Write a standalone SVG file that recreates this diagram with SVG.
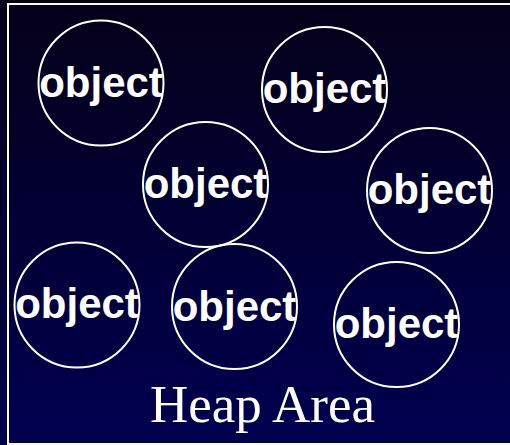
<svg xmlns="http://www.w3.org/2000/svg" width="510" height="445" viewBox="0 0 510 445">
  <defs>
    <linearGradient id="bg" x1="0" y1="0" x2="0" y2="1">
      <stop offset="0" stop-color="#040018"/>
      <stop offset="1" stop-color="#000050"/>
    </linearGradient>
  </defs>
  <style>
    .obj circle { fill: none; stroke: #ffffff; stroke-width: 2; }
    .obj text { fill: #ffffff; font-family: "Liberation Sans", Arial, sans-serif; font-weight: bold; font-size: 42px; text-anchor: middle; }
    .label { fill: #ffffff; font-family: "Liberation Serif", "Times New Roman", serif; font-size: 53px; text-anchor: middle; }
  </style>
  <rect x="0" y="0" width="510" height="445" fill="url(#bg)"/>
  <rect x="8" y="4" width="506" height="440" fill="none" stroke="#ffffff" stroke-width="2"/>
  <g id="connectors"></g>
  <g id="obj1" class="obj"><circle cx="101" cy="83" r="62.5"/><text x="101" y="97">object</text></g>
  <g id="obj2" class="obj"><circle cx="324.5" cy="89.5" r="62.5"/><text x="324.5" y="103">object</text></g>
  <g id="obj3" class="obj"><circle cx="205.5" cy="184.5" r="62.5"/><text x="205.5" y="198">object</text></g>
  <g id="obj4" class="obj"><circle cx="429.5" cy="190.5" r="62.5"/><text x="429.5" y="204">object</text></g>
  <g id="obj5" class="obj"><circle cx="77" cy="305" r="62.5"/><text x="77" y="318">object</text></g>
  <g id="obj6" class="obj"><circle cx="234.5" cy="306.5" r="62.5"/><text x="234.5" y="321">object</text></g>
  <g id="obj7" class="obj"><circle cx="396.5" cy="324.5" r="62.5"/><text x="396.5" y="338">object</text></g>
  <text class="label" x="262.5" y="422">Heap Area</text>
</svg>
